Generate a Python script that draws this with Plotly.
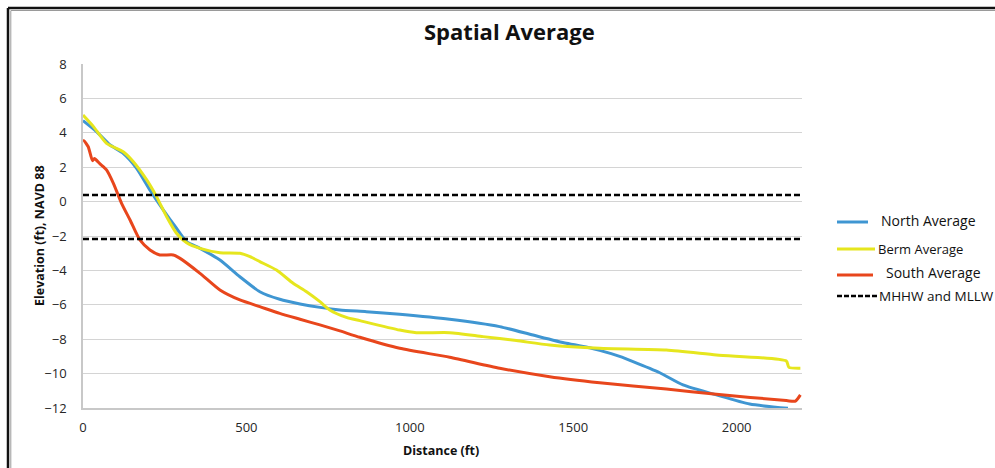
import plotly.graph_objects as go

# ---- data -------------------------------------------------------------
north_x = [0, 42, 83, 123, 164, 205, 246, 286, 317, 358, 419, 480, 541, 602,
           664, 725, 786, 867, 969, 1122, 1275, 1377, 1479, 1550, 1581,
           1642, 1683, 1765, 1836, 1938, 2040, 2157]
north_y = [4.71, 4.06, 3.29, 2.81, 1.94, 0.67, -0.49, -1.55, -2.33, -2.72,
           -3.4, -4.37, -5.24, -5.68, -5.95, -6.15, -6.3, -6.4, -6.55,
           -6.84, -7.27, -7.76, -8.24, -8.5, -8.65, -9.0, -9.3, -9.95, -10.66,
           -11.24, -11.77, -12.02]

berm_x = [0, 32, 72, 123, 154, 195, 225, 256, 286, 317, 358, 419, 480, 511,
          541, 592, 643, 684, 725, 755, 806, 847, 969, 1020, 1122, 1224, 1326,
          1428, 1581, 1785, 1938, 2152, 2160, 2195]
berm_y = [5.03, 4.36, 3.39, 2.9, 2.32, 1.26, 0.29, -0.88, -1.84, -2.39, -2.72,
          -2.97, -3.0, -3.2, -3.49, -3.98, -4.75, -5.24, -5.82, -6.3, -6.73,
          -6.92, -7.47, -7.62, -7.62, -7.85, -8.08, -8.34, -8.53, -8.63,
          -8.92, -9.27, -9.64, -9.69]

south_x = [0, 3, 16, 29, 35, 52, 72, 93, 118, 144, 174, 205, 235, 276, 297,
           358, 419, 480, 541, 602, 664, 725, 786, 847, 969, 1122, 1275, 1428,
           1581, 1785, 1938, 2152, 2180, 2195]
south_y = [3.54, 3.54, 3.19, 2.38, 2.5, 2.19, 1.84, 1.06, -0.1, -1.07, -2.23,
           -2.81, -3.1, -3.1, -3.3, -4.17, -5.14, -5.72, -6.11, -6.5, -6.84,
           -7.17, -7.52, -7.89, -8.53, -9.05, -9.69, -10.18, -10.53, -10.9,
           -11.2, -11.57, -11.6, -11.24]

tide_levels = [0.38, -2.17]          # MHHW, MLLW
tide_span = [0, 2200]

x_ticks = [0, 500, 1000, 1500, 2000]
y_ticks = [-12, -10, -8, -6, -4, -2, 0, 2, 4, 6, 8]

series_names = ["North Average", "Berm Average", "South Average", "MHHW and MLLW"]
series_colors = ["#3F96D2", "#E6E61E", "#E8461C", "#000000"]

# ---- layout geometry (pixels) ----------------------------------------
W, H = 995, 468
L, R, T, B = 83, 193, 64, 60
PW, PH = W - L - R, H - T - B


def px(x):
    return (x - L) / PW


def py(y):
    return (H - B - y) / PH


FONT = "Open Sans, sans-serif"

fig = go.Figure()

for xs, ys, color in [(north_x, north_y, series_colors[0]),
                      (berm_x, berm_y, series_colors[1]),
                      (south_x, south_y, series_colors[2])]:
    fig.add_trace(go.Scatter(x=xs, y=ys, mode="lines",
                             line=dict(color=color, width=3, shape="spline",
                                       smoothing=0.6),
                             showlegend=False, hoverinfo="skip"))

for lvl in tide_levels:
    fig.add_trace(go.Scatter(x=tide_span, y=[lvl, lvl], mode="lines",
                             line=dict(color=series_colors[3], width=2.5,
                                       dash="6px,3px"),
                             showlegend=False, hoverinfo="skip"))

shapes = []
# outer frame: black rule with a thin grey rule inside (top and left)
shapes.append(dict(type="line", xref="paper", yref="paper",
                   x0=px(8), x1=px(W), y0=py(8), y1=py(8),
                   line=dict(color="#111111", width=2.5)))
shapes.append(dict(type="line", xref="paper", yref="paper",
                   x0=px(11), x1=px(W), y0=py(10.5), y1=py(10.5),
                   line=dict(color="#9a9a9a", width=1)))
shapes.append(dict(type="line", xref="paper", yref="paper",
                   x0=px(8), x1=px(8), y0=py(8), y1=py(H),
                   line=dict(color="#111111", width=2.5)))
shapes.append(dict(type="line", xref="paper", yref="paper",
                   x0=px(10.8), x1=px(10.8), y0=py(10.5), y1=py(H),
                   line=dict(color="#9a9a9a", width=1)))

# legend keys
legend_rows = [
    # (x0, x1, y_line, text_x, text_y, size)
    (837, 868, 222, 879, 220, 14),
    (837, 875, 249, 876, 249, 13),
    (837, 873, 275, 884, 272, 14),
    (837, 877, 296, 877, 296, 13.5),
]
annotations = []
for i, (x0, x1, yl, tx, ty, fs) in enumerate(legend_rows):
    shapes.append(dict(type="line", xref="paper", yref="paper",
                       x0=px(x0), x1=px(x1), y0=py(yl), y1=py(yl),
                       line=dict(color=series_colors[i],
                                 width=2.5 if i == 3 else 3,
                                 dash="5px,2px" if i == 3 else "solid")))
    annotations.append(dict(text=series_names[i], xref="paper", yref="paper",
                            x=px(tx), y=py(ty), xanchor="left",
                            yanchor="middle", showarrow=False,
                            font=dict(family=FONT, size=fs, color="#111111")))

# axis titles
annotations.append(dict(text="<b>Distance (ft)</b>", xref="paper", yref="paper",
                        x=px(441), y=py(450), xanchor="center",
                        yanchor="middle", showarrow=False,
                        font=dict(family=FONT, size=12.5, color="#111111")))
annotations.append(dict(text="<b>Elevation (ft), NAVD 88</b>", xref="paper",
                        yref="paper", x=px(39), y=py(236), textangle=-90,
                        xanchor="center", yanchor="middle", showarrow=False,
                        font=dict(family=FONT, size=12.5, color="#111111")))
# chart title
annotations.append(dict(text="<b>Spatial Average</b>", xref="paper",
                        yref="paper", x=px(510), y=py(31), xanchor="center",
                        yanchor="middle", showarrow=False,
                        font=dict(family=FONT, size=22, color="#111111")))

fig.update_layout(
    width=W, height=H,
    margin=dict(l=L, r=R, t=T, b=B),
    paper_bgcolor="white", plot_bgcolor="white",
    shapes=shapes, annotations=annotations,
    xaxis=dict(range=[0, 2200], tickvals=x_ticks, showgrid=False,
               showline=True, linecolor="#c8c8c8", linewidth=1.5,
               zeroline=False, ticks="", ticklabelstandoff=7,
               tickfont=dict(family=FONT, size=13, color="#262626")),
    yaxis=dict(range=[-12, 8], tickvals=y_ticks, showgrid=True,
               gridcolor="#d4d4d4", gridwidth=1.2, showline=True,
               linecolor="#c8c8c8", linewidth=1.5, zeroline=False,
               ticks="", ticklabelstandoff=12,
               tickfont=dict(family=FONT, size=13, color="#262626")),
    showlegend=False,
)

fig.write_html("out.html")
